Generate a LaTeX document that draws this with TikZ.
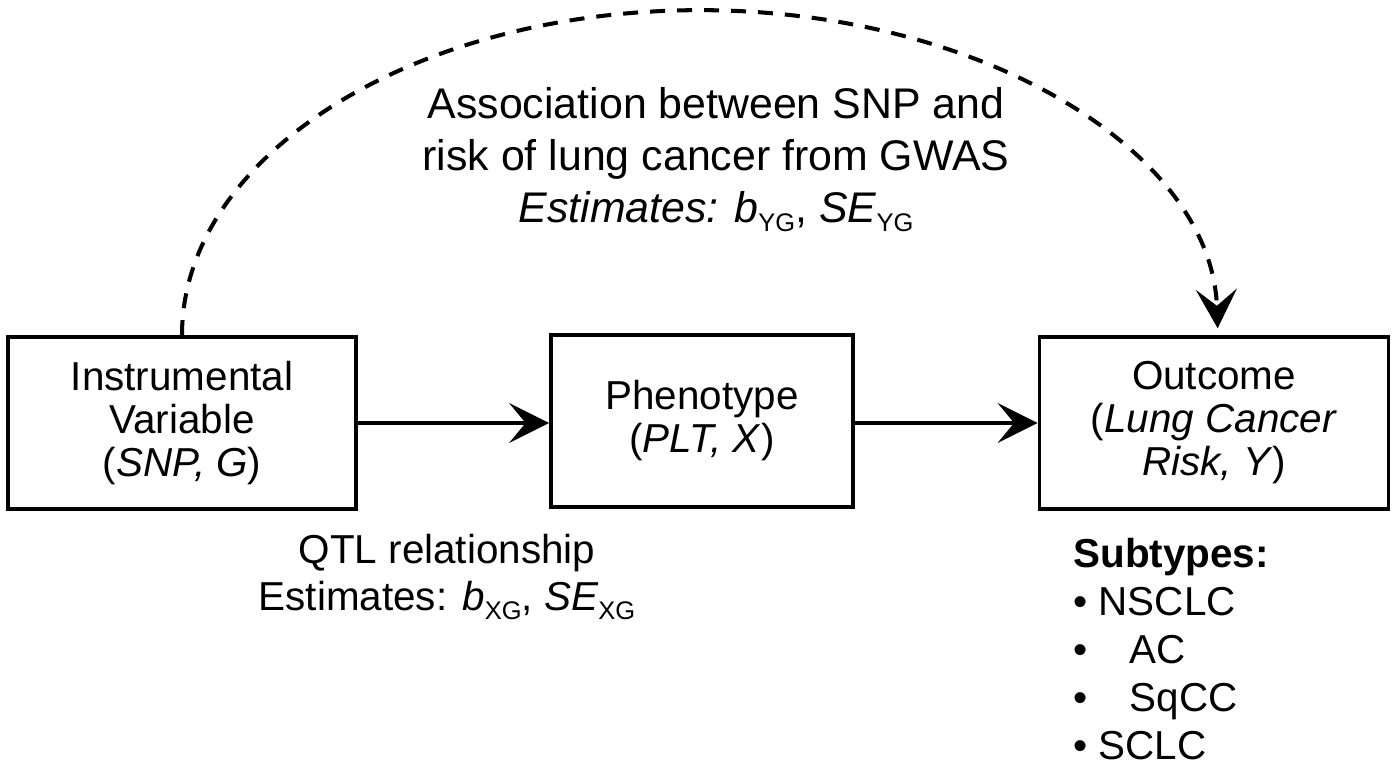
\documentclass[tikz,border=0pt]{standalone}
\usepackage{fontspec}
\setmainfont{Liberation Sans}
\usetikzlibrary{arrows.meta,positioning}

\newcommand{\lowidx}[1]{\raisebox{-0.22em}{\fontsize{14.5}{14.5}\selectfont\upshape #1}}

\begin{document}
\begin{tikzpicture}[x=0.02cm,y=-0.02cm,
    font=\fontsize{23}{24.5}\selectfont,
    box/.style={draw, line width=2.2pt, align=center, inner sep=0pt,
      minimum height=3.44cm},
    link/.style={line width=2.1pt,
      -{Stealth[length=0.8cm,width=0.8cm,inset=0.33cm]}},
    dashlink/.style={line width=2.3pt, dash pattern=on 0.3cm off 0.24cm,
      -{Stealth[length=0.78cm,width=0.82cm,inset=0.33cm]}}]

    % keeps the page at the size of the original
    \useasboundingbox (0,0) rectangle (1400,771);

    % the three boxes
    \node[box, minimum width=6.96cm] (iv) at (182,423)
      {Instrumental\\Variable\\(\textit{SNP, G})};
    \node[box, minimum width=6.04cm] (ph) at (702,421)
      {Phenotype\\(\textit{PLT, X})};
    \node[box, minimum width=6.98cm] (out) at (1214,423)
      {Outcome\\(\textit{Lung Cancer}\\\textit{Risk, Y})};

    % arrows
    \draw[link] (iv.east) -- (iv.east -| ph.west);
    \draw[link] (ph.east |- out.west) -- (out.west);
    \draw[dashlink] (iv.north) arc[start angle=180, end angle=1.2,
      x radius=10.36cm, y radius=6.5cm];

    % labels
    \node[align=center, font=\fontsize{24.4}{29.5}\selectfont] (gwas) at (716,160)
      {Association between SNP and\\risk of lung cancer from GWAS\\
       \textit{Estimates: b}\lowidx{YG}, \textit{SE}\lowidx{YG}};
    \node[align=center, font=\fontsize{23}{26.7}\selectfont] (qtl) at (447,577)
      {QTL relationship\\Estimates: \textit{b}\lowidx{XG}, \textit{SE}\lowidx{XG}};

    % subtypes
    \node[align=left, anchor=west, inner sep=0pt,
      font=\fontsize{23}{27.2}\selectfont] (sub) at (1073,649)
      {\textbf{Subtypes:}\\
       \textbullet\ NSCLC\\
       \textbullet\hspace{0.85cm}AC\\
       \textbullet\hspace{0.85cm}SqCC\\
       \textbullet\ SCLC};

\end{tikzpicture}
\end{document}
